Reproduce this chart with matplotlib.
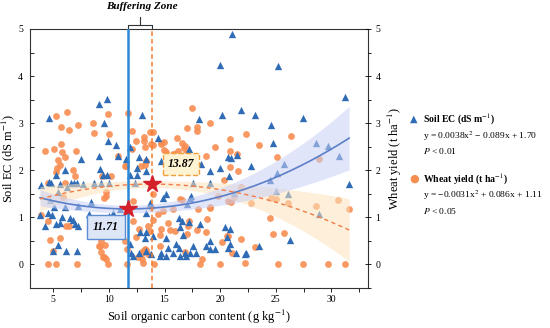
import numpy as np
import matplotlib
matplotlib.use("Agg")
import matplotlib.pyplot as plt
from matplotlib.ticker import MultipleLocator

plt.rcParams['font.family'] = ['Liberation Serif', 'DejaVu Serif']
plt.rcParams['mathtext.fontset'] = 'stix'

# ---------------- data ----------------
ec_x = [21.1, 20.0, 25.2, 31.2, 9.8, 9.1, 21.9, 20.2, 23.1, 13.0, 4.6, 18.1, 27.45, 9.6, 24.6, 14.4,
        9.9, 10.6, 24.8, 28.6, 29.7, 11.9, 17.2, 30.65, 20.7, 21.0, 21.5, 9.15, 11.5, 12.7, 7.45, 14.66,
        10.8, 13.3, 18.3, 20.0, 22.75, 25.7, 6.06, 9.2, 9.5, 12.5, 5.22, 9.83, 11.87, 12.56, 13.37, 19.06,
        20.8, 25.1, 24.5,
        3.85, 4.62, 4.8, 5.6, 6.57, 6.9, 7.11, 7.68, 8.64, 9.3, 10.05, 12.3, 17.56, 19.06, 31.58, 6.19, 5.4,
        15.11, 14.87, 17.33, 17.42, 21.22, 25.05, 26.1, 17.02, 13.67, 4.69, 5.02, 6.03, 8.43, 7.2, 10.95,
        13.37, 4.48, 4.87, 3.81, 8.25, 10.35, 10.05, 9.6, 28.88,
        4.26, 5.2, 5.56, 5.79, 6.51, 6.78, 6.96, 7.2, 16.3, 16.6, 18.16, 17.2, 16.37, 16.66, 13.31, 13.22,
        13.97, 15.17, 12.8, 20.41, 20.92, 20.61,
        5.43, 6.15, 7.11, 4.98, 11.85, 11.99, 12.68, 15.31, 16.07, 16.3, 15.76, 14.72, 13.82, 13.37, 16.81,
        17.26, 17.56, 17.87, 19.06, 18.7, 20.92, 20.7, 21.46, 22.36, 19.12, 19.51, 22.27, 23.49, 26.31,
        12.17, 14.57, 15.17, 16.37, 16.96]
ec_y = [4.9, 4.24, 4.21, 3.55, 3.52, 3.41, 3.29, 3.18, 3.18, 3.17, 3.12, 3.09, 3.1, 3.0, 2.96, 2.69,
        2.63, 2.54, 2.57, 2.58, 2.51, 2.49, 2.45, 2.31, 2.28, 2.25, 2.32, 2.3, 2.24, 2.29, 2.23, 2.19,
        2.3, 2.24, 2.14, 2.05, 2.1, 2.13, 2.01, 2.02, 1.89, 1.89, 1.89, 1.91, 1.91, 2.04, 1.98, 1.98,
        1.88, 1.95, 1.79,
        1.68, 1.75, 1.72, 1.7, 1.72, 1.72, 1.72, 1.7, 1.72, 1.72, 1.72, 1.72, 1.73, 1.73, 1.7, 1.65, 1.53,
        1.49, 1.42, 1.42, 1.46, 1.52, 1.56, 1.49, 1.28, 1.31, 1.37, 1.23, 1.21, 1.32, 1.25, 1.17,
        1.1, 1.1, 1.05, 1.05, 1.08, 1.1, 1.03, 0.96, 1.08,
        0.82, 0.86, 0.89, 1.0, 0.99, 0.94, 0.86, 0.82, 0.98, 0.93, 0.86, 0.91, 0.79, 0.62, 0.69, 0.57,
        0.61, 0.57, 0.68, 0.79, 0.75, 0.59,
        0.41, 0.28, 0.28, 0.28, 0.43, 0.24, 0.24, 0.36, 0.43, 0.36, 0.25, 0.25, 0.23, 0.29, 0.25,
        0.25, 0.4, 0.25, 0.5, 0.4, 0.43, 0.36, 0.25, 0.25, 0.33, 0.33, 0.23, 0.39, 0.51,
        0.18, 0.19, 0.19, 0.19, 0.19]

wy_x = [17.5, 11.72, 6.19, 5.2, 9.96, 19.06, 8.55, 7.2, 5.67, 17.06, 17.96, 17.96, 6.37, 12.05, 13.67,
        13.97, 8.64, 9.99, 22.3, 26.34, 13.13, 16.12, 20.92, 13.16, 12.47, 14.66, 14.99, 16.57, 16.81,
        16.73, 13.76, 13.97, 5.7, 23.53, 14.72, 13.28, 12.08, 5.04, 19.51, 14.93, 20.89, 4.21, 5.79, 7.05,
        16.21, 15.17, 16.97, 15.92, 21.51, 15.76, 6.03, 10.82, 16.52, 18.7, 25.08, 28.85, 5.43, 13.34,
        5.58, 13.25, 11.4, 12.92, 11.51, 20.92, 5.31, 5.25, 6.78, 21.61, 6.99, 9.38, 10.19, 20.35, 4.5,
        6.03, 21.91, 9.74, 5.85, 9.54, 9.78, 13.97, 19.81, 21.22, 24.6, 25.05, 16.37, 16.6, 30.59, 20.7,
        21.01, 12.17, 22.74, 26.1, 28.59, 19.06, 13.82, 19.12, 18.01, 15.76, 31.55, 14.87, 14.42, 3.85,
        24.45, 18.85, 13.97, 4.53, 17.2, 12.17, 15.31, 17.11, 6.1, 6.39, 13.52, 12.74, 14.72, 15.47,
        17.92, 15.92, 13.67, 18.77, 25.71, 24.75, 17.02, 14.57, 20.7, 20.65, 12.47, 5.61, 21.91, 4.69,
        9.3, 11.42, 20.2, 9.69, 9.15, 14.57, 9.18, 23.1, 13.22, 11.58, 9.33, 4.93, 13.37, 13.07, 21.1,
        16.81, 13.01, 13.52, 9.47, 9.6, 12.59, 18.41, 9.78, 13.01, 13.07, 22.2, 4.53, 5.2, 7.14, 9.9,
        11.58, 14.03, 18.16, 19.96, 25.2, 27.45, 29.69, 31.19]
wy_y = [3.33, 3.22, 3.23, 3.15, 3.2, 3.01, 3.01, 2.96, 2.92, 2.9, 2.92, 2.83, 2.85, 2.84, 2.82,
        2.81, 2.79, 2.77, 2.77, 2.72, 2.7, 2.69, 2.67, 2.63, 2.62, 2.58, 2.6, 2.57, 2.51,
        2.48, 2.55, 2.53, 2.55, 2.54, 2.55, 2.5, 2.46, 2.46, 2.49, 2.44, 2.41, 2.4, 2.38, 2.41,
        2.41, 2.39, 2.37, 2.34, 2.34, 2.35, 2.29, 2.31, 2.3, 2.3, 2.29, 2.24, 2.21, 2.19,
        2.12, 2.12, 2.1, 2.09, 2.09, 2.07, 2.05, 1.97, 2.0, 1.98, 1.88, 1.87, 1.87, 1.8, 1.73,
        1.73, 1.65, 1.53, 1.44, 1.42, 1.45, 1.49, 1.46, 1.43, 1.42, 1.39, 1.39, 1.37, 1.37, 1.34,
        1.33, 1.34, 1.31, 1.31, 1.25, 1.21, 1.21, 1.2, 1.17, 1.17, 1.17, 1.14, 1.07, 1.06,
        0.99, 0.97, 0.94, 0.92, 0.92, 0.92, 0.89, 0.82, 0.81, 0.81, 0.81, 0.75, 0.75, 0.74,
        0.74, 0.72, 0.71, 0.68, 0.66, 0.64, 0.64, 0.62, 0.61, 0.6, 0.59, 0.57, 0.55, 0.51,
        0.5, 0.49, 0.47, 0.41, 0.4, 0.4, 0.39, 0.37, 0.33, 0.33, 0.26, 0.28, 0.3, 0.28, 0.25,
        0.26, 0.25, 0.22, 0.16, 0.15, 0.15, 0.12, 0.11, 0.11, 0.04, 0.04, 0.0, 0.0, 0.0, 0.01,
        0.0, 0.01, 0.01, 0.01, 0.0, 0.0, 0.0, 0.01]

ec_coef = [0.0038, -0.089, 1.70]      # soil EC quadratic fit
wy_coef = [-0.0031, 0.086, 1.11]      # wheat yield quadratic fit
ec_ci = [0.08, 0.0015, 11.71]         # band half-width params (base, curvature, centre)
wy_ci = [0.07, 0.0019, 13.87]
thr_ec = 11.71
thr_wy = 13.87
fit_range = [3.8, 31.6]

# ---------------- figure ----------------
C_BLUE = '#2f6cb5'
C_ORANGE = '#f88d52'
C_FITB = '#5b80c8'
C_FITO = '#f07b45'

fig = plt.figure(figsize=(5.5, 3.28), dpi=100)
ax = fig.add_axes([30/550, 40/328, 338/550, 259/328])

ax.scatter(wy_x, wy_y, marker='o', s=24, color=C_ORANGE, alpha=0.9, linewidths=0, zorder=2)
ax.scatter(ec_x, ec_y, marker='^', s=28, color=C_BLUE, linewidths=0, zorder=2)

xf = np.linspace(fit_range[0], fit_range[1], 200)
ec_f = np.polyval(ec_coef, xf)
wy_f = np.polyval(wy_coef, xf)
ec_h = ec_ci[0] + ec_ci[1] * (xf - ec_ci[2])**2
wy_h = wy_ci[0] + wy_ci[1] * (xf - wy_ci[2])**2

ax.fill_between(xf, wy_f - wy_h, wy_f + wy_h, color='#fde3bd', alpha=0.55, lw=0, zorder=3)
ax.fill_between(xf, ec_f - ec_h, ec_f + ec_h, color='#c9d0f5', alpha=0.55, lw=0, zorder=3)
ax.plot(xf, ec_f, color=C_FITB, lw=1.2, zorder=4)
ax.plot(xf, wy_f, color=C_FITO, lw=1.0, ls=(0, (3, 2.5)), zorder=4)

ax.axvline(thr_ec, color='#2c88d6', lw=1.8, zorder=5)
ax.axvline(thr_wy, color='#f27c2c', lw=1.1, ls=(0, (3, 2)), zorder=5)

ax.plot([thr_ec], [np.polyval(ec_coef, thr_ec)], marker='*', ms=13, color='#d4202a',
        mec='#d4202a', zorder=6, ls='none')
ax.plot([thr_wy], [np.polyval(wy_coef, thr_wy)], marker='*', ms=13, color='#d4202a',
        mec='#d4202a', zorder=6, ls='none')

ax.text(9.72, 0.8, f'{thr_ec:.2f}', fontsize=8.5, fontweight='bold', style='italic',
        ha='center', va='center', zorder=7,
        bbox=dict(boxstyle='square,pad=0.5', fc='#dde6f7', ec='#5b8bd0', lw=1.0))
ax.text(16.46, 2.13, f'{thr_wy:.2f}', fontsize=8.5, fontweight='bold', style='italic',
        ha='center', va='center', zorder=7,
        bbox=dict(boxstyle='square,pad=0.4', fc='#fdf3d2', ec='#f2a03a', lw=1.0, ls='--'))

ax.set_xlim(2.9, 33.3)
ax.set_ylim(-0.5, 5)
ax.xaxis.set_major_locator(MultipleLocator(5))
ax.xaxis.set_minor_locator(MultipleLocator(2.5))
ax.set_yticks([0, 1, 2, 3, 4, 5])
ax.yaxis.set_minor_locator(MultipleLocator(0.5))
ax.tick_params(axis='x', which='both', direction='out', length=3, width=0.6, labelsize=7, pad=2)
ax.tick_params(axis='y', which='both', direction='in', length=3, width=0.6, labelsize=7, pad=5)
for s in ax.spines.values():
    s.set_linewidth(0.8)
    s.set_color('#333333')

ax.set_xlabel('Soil organic carbon content (g kg$^{-1}$)', fontsize=9, labelpad=3)
ax.set_ylabel('Soil EC (dS m$^{-1}$)', fontsize=9, labelpad=1)

ax2 = ax.twinx()
ax2.set_ylim(-0.5, 5)
ax2.set_yticks([0, 1, 2, 3, 4, 5])
ax2.yaxis.set_minor_locator(MultipleLocator(0.5))
ax2.tick_params(axis='y', which='major', direction='inout', length=5, width=0.6, labelsize=7, pad=3)
ax2.tick_params(axis='y', which='minor', direction='out', length=2.5, width=0.6)
ax2.set_ylabel('Wheat yield (t ha$^{-1}$)', fontsize=9, labelpad=4)
for s in ax2.spines.values():
    s.set_visible(False)

# Buffering zone bracket
trans = ax.get_xaxis_transform()
yb = 1.016
ax.plot([thr_ec, thr_ec, thr_wy, thr_wy], [1.0, yb, yb, 1.0], color='#333333', lw=0.8,
        transform=trans, clip_on=False)
xm = (thr_ec + thr_wy) / 2
ax.plot([xm, xm], [yb, yb + 0.03], color='#333333', lw=0.8, transform=trans, clip_on=False)
ax.text(xm + 0.2, 1.07, 'Buffering Zone', transform=trans, fontsize=8, fontweight='bold',
        style='italic', ha='center', va='bottom')

# legend block
fig.text(414/550, 1 - 119/328, '▲', color=C_BLUE, fontsize=7, ha='center', va='center',
         family=['DejaVu Sans'])
fig.text(423/550, 1 - 119/328, 'Soil EC (dS m$^{-1}$)', fontsize=7, fontweight='bold', va='center')
fig.text(423/550, 1 - 136/328, 'y = 0.0038x$^{2}$ − 0.089x + 1.70', fontsize=6.8, va='center')
fig.text(423/550, 1 - 151/328, '$P$ < 0.01', fontsize=6.8, va='center')
fig.text(414/550, 1 - 179/328, '●', color=C_ORANGE, fontsize=8, ha='center', va='center',
         family=['DejaVu Sans'])
fig.text(423/550, 1 - 179/328, 'Wheat yield (t ha$^{-1}$)', fontsize=7, fontweight='bold', va='center')
fig.text(423/550, 1 - 195/328, 'y = −0.0031x$^{2}$ + 0.086x + 1.11', fontsize=6.8, va='center')
fig.text(423/550, 1 - 211/328, '$P$ < 0.05', fontsize=6.8, va='center')

fig.savefig('out.png', dpi=100)
